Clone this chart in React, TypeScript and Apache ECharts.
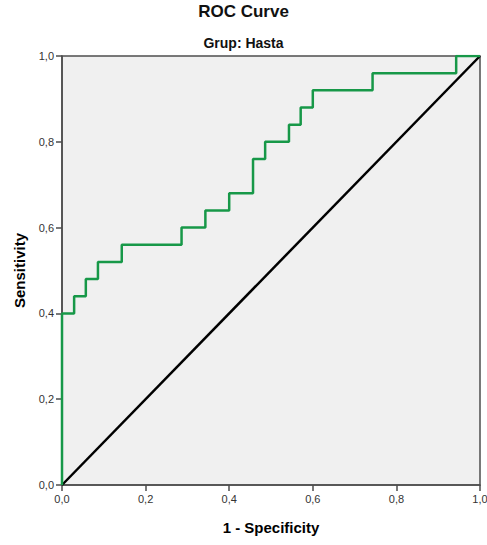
import React, { useEffect, useRef } from "react";
import * as echarts from "echarts";

const fpr = [0, 0, 0.029, 0.029, 0.057, 0.057, 0.086, 0.086, 0.143, 0.143, 0.286, 0.286, 0.343, 0.343, 0.4, 0.4, 0.457, 0.457, 0.486, 0.486, 0.543, 0.543, 0.571, 0.571, 0.6, 0.6, 0.743, 0.743, 0.943, 0.943, 1.0];
const tpr = [0, 0.4, 0.4, 0.44, 0.44, 0.48, 0.48, 0.52, 0.52, 0.56, 0.56, 0.6, 0.6, 0.64, 0.64, 0.68, 0.68, 0.76, 0.76, 0.8, 0.8, 0.84, 0.84, 0.88, 0.88, 0.92, 0.92, 0.96, 0.96, 1.0, 1.0];
const refX = [0, 1];
const refY = [0, 1];

const fmt = (v: number) => v.toFixed(1).replace(".", ",");
const FONT = "Liberation Sans, Arial, sans-serif";

export default function App() {
  const ref = useRef<HTMLDivElement>(null);
  useEffect(() => {
    const chart = echarts.init(ref.current!, null, { renderer: "svg" });
    const axisCommon = {
      type: "value" as const,
      min: 0,
      max: 1,
      interval: 0.2,
      axisLine: { show: true, lineStyle: { color: "#4d4d4d", width: 1.5 } },
      axisTick: { show: true, length: 6, lineStyle: { color: "#4d4d4d", width: 1.5 } },
      splitLine: { show: false },
      axisLabel: { color: "#333", fontSize: 11, fontFamily: FONT, formatter: fmt },
      nameTextStyle: { color: "#000", fontSize: 15, fontWeight: "bold" as const, fontFamily: FONT },
    };
    chart.setOption({
      animation: false,
      backgroundColor: "#ffffff",
      title: [
        {
          text: "ROC Curve",
          left: "center",
          top: 3,
          padding: 0,
          textStyle: { fontSize: 17, fontWeight: "bold", color: "#111", fontFamily: FONT, lineHeight: 17 },
        },
        {
          text: "Grup: Hasta",
          left: "center",
          top: 36,
          padding: 0,
          textStyle: { fontSize: 14, fontWeight: "bold", color: "#111", fontFamily: FONT, lineHeight: 14 },
        },
      ],
      grid: {
        left: 62,
        right: 7,
        top: 56,
        bottom: 60,
        outerBoundsMode: "none",
        containLabel: false,
        show: true,
        backgroundColor: "#f0f0f0",
        borderColor: "#4d4d4d",
        borderWidth: 1.5,
      },
      xAxis: {
        ...axisCommon,
        name: "1 - Specificity",
        nameLocation: "middle",
        nameGap: 35,
      },
      yAxis: {
        ...axisCommon,
        name: "Sensitivity",
        nameLocation: "middle",
        nameGap: 35,
      },
      series: [
        {
          type: "line",
          data: refX.map((x, i) => [x, refY[i]]),
          showSymbol: false,
          lineStyle: { color: "#000", width: 2.5 },
          silent: true,
        },
        {
          type: "line",
          data: fpr.map((x, i) => [x, tpr[i]]),
          showSymbol: false,
          lineStyle: { color: "#179848", width: 2.5 },
          silent: true,
        },
      ],
    });
    return () => chart.dispose();
  }, []);
  return <div ref={ref} style={{ width: 487, height: 545, position: "absolute", left: 0, top: 0 }} />;
}
